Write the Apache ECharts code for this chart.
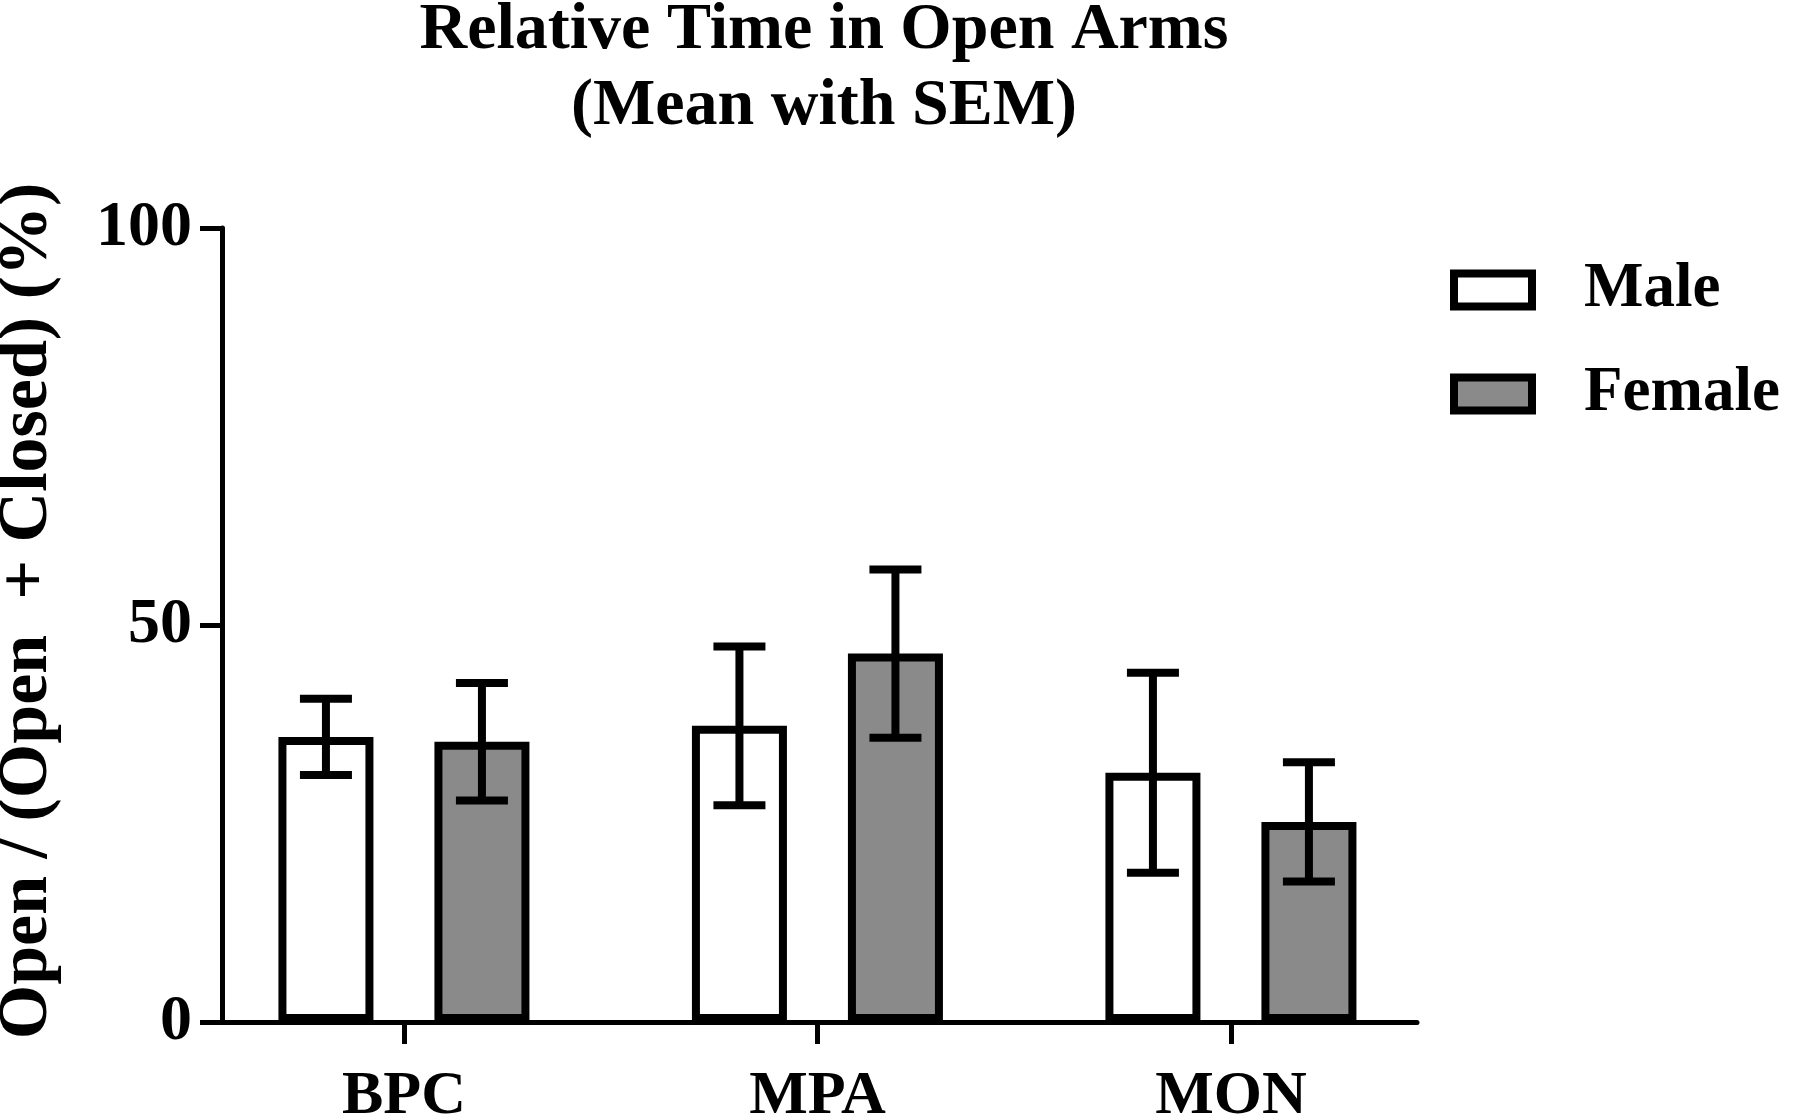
<!DOCTYPE html>
<html>
<head>
<meta charset="utf-8">
<script src="https://cdn.jsdelivr.net/npm/echarts@6/dist/echarts.min.js"></script>
<style>
html, body { margin: 0; padding: 0; background: #fff; }
#chart { width: 1800px; height: 1116px; }
</style>
</head>
<body>
<div id="chart"></div>
<script>
const categories = ['BPC', 'MPA', 'MON'];
const maleMean = [35.9, 37.3, 31.4];
const maleSem = [4.8, 10.0, 12.6];
const femaleMean = [35.3, 46.4, 25.2];
const femaleSem = [7.4, 10.6, 7.5];
const yTicks = [0, 50, 100];

const font = "'Liberation Serif', 'Times New Roman', serif";
const barWidth = 95;
const barGapPx = 61;
const half = (barWidth + barGapPx) / 2;

function errorSeries(means, sems, side) {
    return {
        type: 'custom',
        z: 5,
        silent: true,
        data: means.map((m, i) => [i, m - sems[i], m + sems[i]]),
        renderItem: function (params, api) {
            const lo = api.coord([api.value(0), api.value(1)]);
            const hi = api.coord([api.value(0), api.value(2)]);
            const x = lo[0] + side * half;
            const cap = 26;
            const st = { stroke: '#000', lineWidth: 8 };
            return {
                type: 'group',
                children: [
                    { type: 'line', shape: { x1: x, y1: hi[1], x2: x, y2: lo[1] }, style: st },
                    { type: 'line', shape: { x1: x - cap, y1: hi[1], x2: x + cap, y2: hi[1] }, style: st },
                    { type: 'line', shape: { x1: x - cap, y1: lo[1], x2: x + cap, y2: lo[1] }, style: st }
                ]
            };
        }
    };
}

const chart = echarts.init(document.getElementById('chart'));
chart.setOption({
    animation: false,
    backgroundColor: '#fff',
    title: {
        text: 'Relative Time in Open Arms\n(Mean with SEM)',
        left: 819,
        textAlign: 'center',
        top: -12,
        textStyle: { fontFamily: font, fontWeight: 'bold', fontSize: 66, lineHeight: 76, color: '#000' }
    },
    legend: {
        orient: 'vertical',
        left: 1445,
        top: 252,
        itemWidth: 78,
        itemHeight: 33,
        itemGap: 38,
        icon: 'rect',
        textStyle: { fontFamily: font, fontWeight: 'bold', fontSize: 63, lineHeight: 66, color: '#000', padding: [0, 0, 0, 47] },
        data: [
            { name: 'Male', itemStyle: { color: '#fff', borderColor: '#000', borderWidth: 8 } },
            { name: 'Female', itemStyle: { color: '#8a8a8a', borderColor: '#000', borderWidth: 8 } }
        ]
    },
    grid: { left: 222, right: 383, top: 228, bottom: 94, containLabel: false, outerBoundsMode: 'none' },
    xAxis: {
        type: 'value',
        min: -0.44,
        max: 2.45,
        splitLine: { show: false },
        axisLine: { show: true, onZero: false, lineStyle: { color: '#000', width: 5 } },
        axisTick: { show: true, length: 22, lineStyle: { color: '#000', width: 5 }, customValues: [0, 1, 2] },
        axisLabel: {
            customValues: [0, 1, 2],
            formatter: v => categories[Math.round(v)],
            margin: 44,
            fontFamily: font, fontWeight: 'bold', fontSize: 62, color: '#000'
        }
    },
    yAxis: {
        type: 'value',
        min: yTicks[0],
        max: yTicks[yTicks.length - 1],
        interval: yTicks[1] - yTicks[0],
        splitLine: { show: false },
        axisLine: { show: true, onZero: false, lineStyle: { color: '#000', width: 5 } },
        axisTick: { show: true, length: 22, lineStyle: { color: '#000', width: 5 } },
        axisLabel: { margin: 30, fontFamily: font, fontWeight: 'bold', fontSize: 64, color: '#000' },
        name: 'Open / (Open  + Closed) (%)',
        nameLocation: 'middle',
        nameGap: 159,
        nameTextStyle: { fontFamily: font, fontWeight: 'bold', fontSize: 70, color: '#000', padding: [0, 0, 0, 28] }
    },
    series: [
        {
            name: 'Male',
            type: 'bar',
            barWidth: barWidth,
            barGap: (barGapPx / barWidth * 100) + '%',
            itemStyle: { color: '#fff', borderColor: '#000', borderWidth: 8 },
            data: maleMean.map((m, i) => [i, m])
        },
        {
            name: 'Female',
            type: 'bar',
            barWidth: barWidth,
            barGap: (barGapPx / barWidth * 100) + '%',
            itemStyle: { color: '#8a8a8a', borderColor: '#000', borderWidth: 8 },
            data: femaleMean.map((m, i) => [i, m])
        },
        errorSeries(maleMean, maleSem, -1),
        errorSeries(femaleMean, femaleSem, 1)
    ]
});
</script>
</body>
</html>
